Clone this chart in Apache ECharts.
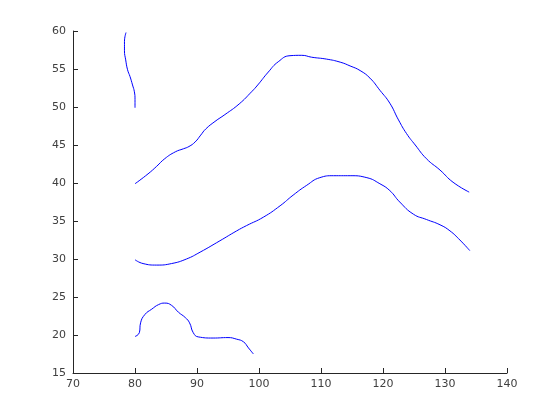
<!DOCTYPE html>
<html><head><meta charset="utf-8">
<script src="https://cdn.jsdelivr.net/npm/echarts@6/dist/echarts.min.js"></script>
<style>html,body{margin:0;padding:0;background:#fff}#c{width:560px;height:420px}</style>
</head><body><div id="c"></div>
<script>
var xTicks = [70, 80, 90, 100, 110, 120, 130, 140];
var yTicks = [15, 20, 25, 30, 35, 40, 45, 50, 55, 60];
var curve1 = [[78.55,59.8],[78.3,58.6],[78.3,57.4],[78.5,56.2],[78.8,54.9],[79.2,54.0],[79.6,52.9],[79.9,52.0],[80.0,51.0],[80.0,49.9]];
var curve2 = [[80.0,39.9],[82.1,41.2],[83.5,42.2],[84.8,43.2],[86.5,44.1],[87.8,44.5],[88.7,44.8],[89.7,45.4],[90.6,46.3],[91.4,47.1],[92.9,48.1],[94.5,49.0],[96.8,50.4],[98.8,52.0],[99.8,52.9],[101.5,54.6],[103.1,55.95],[105.0,56.75],[106.9,56.8],[108.5,56.55],[110.9,56.3],[113.1,55.9],[114.7,55.4],[116.3,54.8],[117.9,53.8],[119.5,52.2],[121.1,50.5],[122.5,48.3],[123.8,46.5],[125.2,45.0],[127.0,43.2],[129.2,41.7],[131.3,40.1],[133.9,38.8]];
var curve3 = [[80.0,29.9],[81.3,29.4],[83.5,29.2],[85.9,29.4],[88.3,30.0],[90.5,30.9],[93.7,32.4],[96.4,33.7],[98.0,34.4],[100.7,35.5],[103.4,37.0],[105.5,38.4],[107.7,39.7],[109.8,40.7],[112.0,40.96],[114.7,40.96],[117.4,40.7],[119.5,39.9],[121.1,39.0],[122.7,37.5],[124.9,35.9],[127.0,35.2],[129.2,34.5],[130.8,33.7],[132.4,32.5],[134.0,31.1]];
var curve4 = [[80.0,19.8],[80.7,20.3],[80.9,21.6],[81.6,22.7],[82.7,23.4],[83.8,24.0],[84.8,24.2],[85.9,23.9],[87.0,23.0],[88.1,22.3],[88.8,21.6],[89.4,20.3],[90.2,19.75],[92.6,19.6],[95.0,19.66],[96.4,19.45],[97.5,19.1],[98.3,18.3],[99.1,17.5]];

var chart = echarts.init(document.getElementById('c'), null, {renderer:'canvas'});
var axisCol = '#262626';
function mkSeries(d){return {type:'line', data:d, showSymbol:false, symbol:'none', smooth:true,
  lineStyle:{color:'#0000ff', width:1}, silent:true, animation:false};}
chart.setOption({
  animation:false,
  backgroundColor:'#ffffff',
  grid:{left:73, right:53, top:31, bottom:47, containLabel:false},
  xAxis:{type:'value', min:xTicks[0], max:xTicks[xTicks.length-1], interval:10,
    axisLine:{show:true, onZero:false, lineStyle:{color:axisCol, width:1}},
    axisTick:{show:true, inside:true, length:5, lineStyle:{color:axisCol}},
    axisLabel:{color:'#404040', fontSize:11, fontFamily:'DejaVu Sans', margin:6},
    splitLine:{show:false}},
  yAxis:{type:'value', min:yTicks[0], max:yTicks[yTicks.length-1], interval:5,
    axisLine:{show:true, onZero:false, lineStyle:{color:axisCol, width:1}},
    axisTick:{show:true, inside:true, length:5, lineStyle:{color:axisCol}},
    axisLabel:{color:'#404040', fontSize:11, fontFamily:'DejaVu Sans', margin:7},
    splitLine:{show:false}},
  series:[mkSeries(curve1), mkSeries(curve2), mkSeries(curve3), mkSeries(curve4)]
});
</script></body></html>
